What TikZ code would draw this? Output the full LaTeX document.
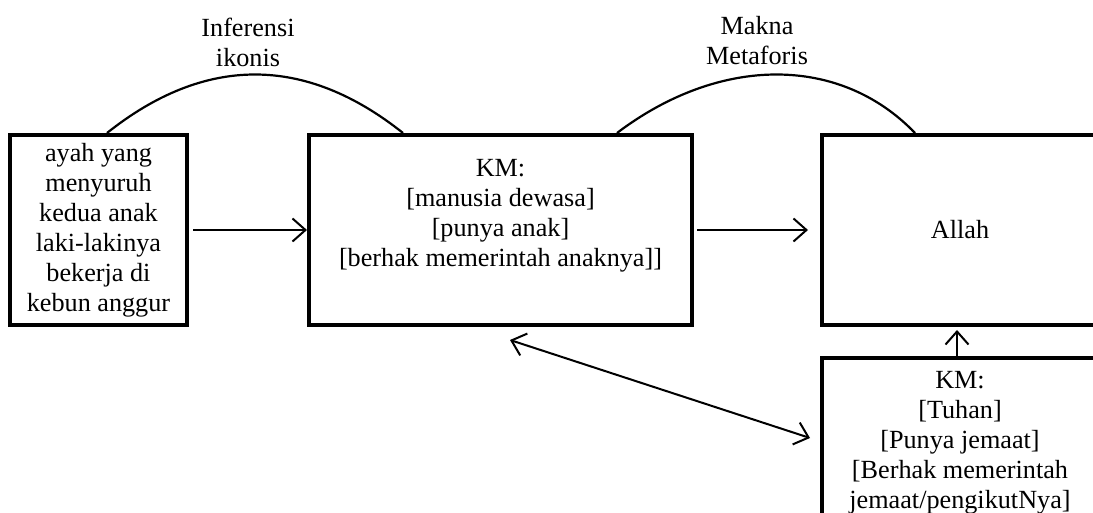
\documentclass[tikz,border=0pt]{standalone}
\usepackage{fontspec}
\setmainfont{Liberation Serif}
\usetikzlibrary{arrows.meta,calc}
\begin{document}
\begin{tikzpicture}[x=0.5pt,y=-0.5pt,
  every node/.style={font=\rmfamily\fontsize{13.1}{15}\selectfont},
  box/.style={draw=black,line width=2pt,align=center,inner sep=0pt},
  caption/.style={align=center,inner sep=0pt},
  link/.style={line width=1pt,-{Straight Barb[length=6.5pt,width=11.5pt,line width=1pt]}},
  hump/.style={line width=1.1pt}]
\useasboundingbox (0,0) rectangle (1093,513);
\clip (0,0) rectangle (1093,513);

% source, concept and target boxes (sizes in pt: half the picture units)
\node[box,minimum width=88.5pt,minimum height=95pt] (src) at (98.5,230)
  {ayah yang\\menyuruh\\kedua anak\\laki-lakinya\\bekerja di\\kebun anggur};
\node[box,minimum width=191.5pt,minimum height=95pt] (mid) at (500.5,230) {};
\node[align=center,inner sep=0pt] (midtext) at (500.5,216)
  {KM:\\{}[manusia dewasa]\\{}[punya anak]\\{}[berhak memerintah anaknya]]};
\node[box,minimum width=138pt,minimum height=95pt] (god) at (960,230) {Allah};
\node[box,minimum width=138pt,minimum height=85pt] (km) at (960,443)
  {KM:\\{}[Tuhan]\\{}[Punya jemaat]\\{}[Berhak memerintah\\jemaat/pengikutNya]};

% captions above the humps
\node[caption] (inf) at (248,42) {Inferensi\\ikonis};
\node[caption] (mak) at (757,41) {Makna\\Metaforis};

% humps joining the boxes
\draw[hump] ($(src.north)+(8.5,0)$) .. controls (205,55) and (305,55) .. ($(mid.north)+(-97.5,0)$);
\draw[hump] ($(mid.north)+(116.5,0)$) .. controls (720,55) and (840,55) .. ($(god.north)+(-45,0)$);

% arrows
\draw[link,shorten <=2pt] (src) -- (mid);
\draw[link,shorten >=6pt,shorten <=1.5pt] (mid) -- (god);
\draw[link,shorten >=1.5pt] ($(km.north)+(-3,0)$) -- ($(god.south)+(-3,0)$);
\draw[line width=1pt,{Straight Barb[length=6.5pt,width=11.5pt,line width=1pt]}-{Straight Barb[length=6.5pt,width=11.5pt,line width=1pt]}]
  ($(mid.south)+(9.5,13)$) -- ($(km.west)+(-10,-5)$);
\end{tikzpicture}
\end{document}
